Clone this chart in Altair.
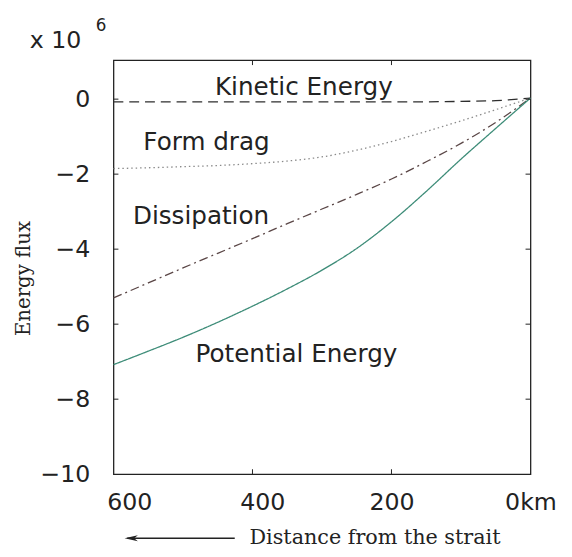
import altair as alt
import pandas as pd

# ---- data ----
distance = [600, 550, 500, 450, 400, 350, 300, 250, 200, 150, 100, 50, 0]
kinetic = [-0.07, -0.07, -0.07, -0.07, -0.07, -0.07, -0.07, -0.07, -0.07, -0.07, -0.06, -0.04, 0.03]
form_drag = [-1.85, -1.83, -1.80, -1.77, -1.72, -1.65, -1.54, -1.36, -1.13, -0.86, -0.58, -0.28, 0.03]
dissipation = [-5.30, -4.90, -4.50, -4.11, -3.72, -3.32, -2.93, -2.54, -2.13, -1.67, -1.18, -0.62, 0.03]
potential = [-7.08, -6.72, -6.35, -5.95, -5.52, -5.06, -4.56, -3.98, -3.27, -2.46, -1.60, -0.78, 0.03]

series_names = ["Kinetic Energy", "Form drag", "Dissipation", "Potential Energy"]
series_colors = ["#2e2e2e", "#8a8a8a", "#5a4646", "#3d8c78"]
series_dashes = [[10, 6], [1.5, 3], [9, 4, 2, 4], [1, 0]]

label_text = ["Kinetic Energy", "Form drag", "Dissipation", "Potential Energy"]
label_x = [454, 557, 572, 482]
label_y = [0.12, -1.36, -3.33, -7.0]

x_ticks = [600, 400, 200, 0]
y_ticks = [0, -2, -4, -6, -8, -10]
x_inner_ticks = [400, 200]
y_inner_ticks = [0, -2, -4, -6, -8]

W, H = 423, 420
FONT = "DejaVu Sans"

rows = []
for name, vals in zip(series_names, [kinetic, form_drag, dissipation, potential]):
    for d, v in zip(distance, vals):
        rows.append({"series": name, "distance": d, "value": v})
df = pd.DataFrame(rows)

xscale = alt.Scale(domain=[0, 600], reverse=True, nice=False, zero=False)
yscale = alt.Scale(domain=[-10, 1.04], nice=False, zero=False)

x_axis = alt.Axis(
    values=x_ticks, title=None, grid=False, domain=False, ticks=False, tickSize=0,
    labelFont=FONT, labelFontSize=24, labelColor="#222", labelPadding=17,
    labelExpr="datum.value == 0 ? '0km' : datum.label",
    labelOffset={"condition": [{"test": "datum.value == 600", "value": 16},
                               {"test": "datum.value == 400", "value": 10}], "value": 0},
    labelFlush=False, labelOverlap=False,
)
y_axis = alt.Axis(
    values=y_ticks, title="Energy flux", grid=False, domain=False, ticks=False, tickSize=0,
    labelFont=FONT, labelFontSize=24, labelColor="#222", labelPadding=24,
    labelFlush=False, labelOverlap=False,
    titleFont="DejaVu Serif", titleFontSize=20, titleFontWeight="normal", titleColor="#222",
    titleX=-91, titleY=221, titleAngle=-90, titleAlign="center", titleBaseline="middle",
)

lines = alt.Chart(df).mark_line(strokeWidth=1.3, interpolate="monotone").encode(
    x=alt.X("distance:Q", scale=xscale, axis=x_axis),
    y=alt.Y("value:Q", scale=yscale, axis=y_axis),
    color=alt.Color("series:N", scale=alt.Scale(domain=series_names, range=series_colors), legend=None),
    strokeDash=alt.StrokeDash("series:N", scale=alt.Scale(domain=series_names, range=series_dashes), legend=None),
)

labels_df = pd.DataFrame({"label": label_text, "distance": label_x, "value": label_y})
labels = alt.Chart(labels_df).mark_text(
    align="left", baseline="alphabetic", font=FONT, fontSize=25, color="#222"
).encode(x="distance:Q", y="value:Q", text="label:N")

yt = pd.DataFrame({"value": y_inner_ticks})
xt = pd.DataFrame({"distance": x_inner_ticks})
tick_left = alt.Chart(yt).mark_rule(color="#222", strokeWidth=1).encode(
    y="value:Q", x=alt.value(0), x2=alt.value(5))
tick_right = alt.Chart(yt).mark_rule(color="#222", strokeWidth=1).encode(
    y="value:Q", x=alt.value(W - 5), x2=alt.value(W))
tick_bottom = alt.Chart(xt).mark_rule(color="#222", strokeWidth=1).encode(
    x="distance:Q", y=alt.value(H - 5), y2=alt.value(H))
tick_top = alt.Chart(xt).mark_rule(color="#222", strokeWidth=1).encode(
    x="distance:Q", y=alt.value(0), y2=alt.value(5))

one = pd.DataFrame({"t": ["x 10"], "s": ["6"], "xt": ["Distance from the strait"]})
mult = alt.Chart(one).mark_text(align="left", baseline="alphabetic", font=FONT, fontSize=24, color="#222").encode(
    x=alt.value(-85), y=alt.value(-12), text="t:N")
sup = alt.Chart(one).mark_text(align="left", baseline="alphabetic", font=FONT, fontSize=17, color="#222").encode(
    x=alt.value(-18), y=alt.value(-30), text="s:N")
xtitle = alt.Chart(one).mark_text(align="left", baseline="alphabetic", font="DejaVu Serif", fontSize=21, color="#222").encode(
    x=alt.value(138), y=alt.value(491), text="xt:N")
arrow_line = alt.Chart(one).mark_rule(color="#222", strokeWidth=1.4).encode(
    x=alt.value(14), x2=alt.value(123), y=alt.value(485))
arrow_head = alt.Chart(one).mark_point(
    shape="M -1 0 L 1 -0.45 L 0.45 0 L 1 0.45 Z", filled=True, size=180, color="#222", opacity=1
).encode(x=alt.value(18), y=alt.value(485))

chart = alt.layer(
    lines, labels, tick_left, tick_right, tick_bottom, tick_top,
    mult, sup, xtitle, arrow_line, arrow_head
).properties(
    width=W, height=H,
    autosize=alt.AutoSizeParams(type="none"),
    padding={"left": 107, "top": 49, "right": 34, "bottom": 72},
    background="white",
).configure_view(stroke="#222", strokeWidth=1.3)

chart.save("out.html", embed_options={"renderer": "svg", "actions": False})
